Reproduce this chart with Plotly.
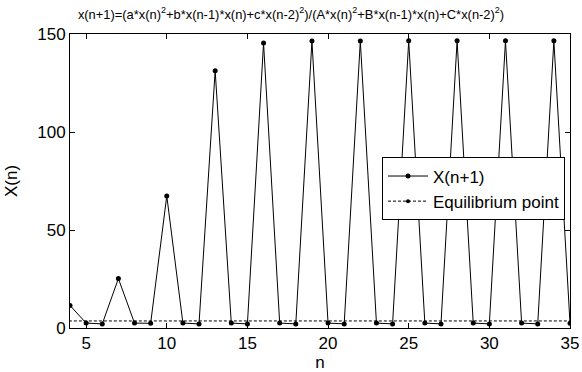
import plotly.graph_objects as go

n_values = list(range(4, 36))
x_values = [11.5, 2.5, 2.1, 25.2, 2.5, 2.4, 67.4, 2.5, 2.1, 131.3, 2.5, 2.1,
            145.4, 2.5, 2.1, 146.4, 2.5, 2.1, 146.4, 2.5, 2.1, 146.5, 2.5, 2.1,
            146.5, 2.5, 2.1, 146.5, 2.5, 2.1, 146.5, 2.4]
eq_n = [3, 36]
eq_value = [3.6, 3.6]

title = "x(n+1)=(a*x(n)<sup>2</sup>+b*x(n-1)*x(n)+c*x(n-2)<sup>2</sup>)/(A*x(n)<sup>2</sup>+B*x(n-1)*x(n)+C*x(n-2)<sup>2</sup>)"
FONT = "Arial, Liberation Sans, sans-serif"

fig = go.Figure()
fig.add_trace(go.Scatter(x=n_values, y=x_values, mode="lines+markers", name="X(n+1)",
                         line=dict(color="black", width=1), marker=dict(color="black", size=5),
                         cliponaxis=True))
fig.add_trace(go.Scatter(x=eq_n, y=eq_value, mode="lines+markers", name="Equilibrium point",
                         line=dict(color="black", width=1, dash="3px,2px"),
                         marker=dict(color="black", size=4), cliponaxis=True))

axis_common = dict(showline=True, linecolor="black", linewidth=1, mirror="ticks",
                   ticks="inside", ticklen=5, tickcolor="black", showgrid=False, zeroline=False,
                   automargin=False,
                   tickfont=dict(family=FONT, size=17, color="black"))
fig.update_xaxes(range=[4, 35], tickvals=[5, 10, 15, 20, 25, 30, 35],
                 title=dict(text="n", font=dict(family=FONT, size=17, color="black")),
                 **axis_common)
fig.update_yaxes(range=[0, 150], tickvals=[0, 50, 100, 150],
                 title=dict(text="X(n)", font=dict(family=FONT, size=17, color="black")),
                 **axis_common)

fig.update_layout(
    width=582, height=372,
    margin=dict(l=70, r=12, t=34, b=44),
    plot_bgcolor="white", paper_bgcolor="white",
    title=dict(text=title, x=0.5, xanchor="center", y=0.962, yanchor="middle",
               font=dict(family=FONT, size=12.9, color="black")),
    legend=dict(x=0.99, y=0.58, xanchor="right", yanchor="top",
                bgcolor="white", bordercolor="black", borderwidth=1,
                font=dict(family=FONT, size=17, color="black"),
                itemwidth=40, tracegroupgap=0),
    showlegend=True,
)

fig.write_html("out.html", config={"displayModeBar": False},
               post_script="document.body.style.margin='0';document.body.style.overflow='hidden';")
